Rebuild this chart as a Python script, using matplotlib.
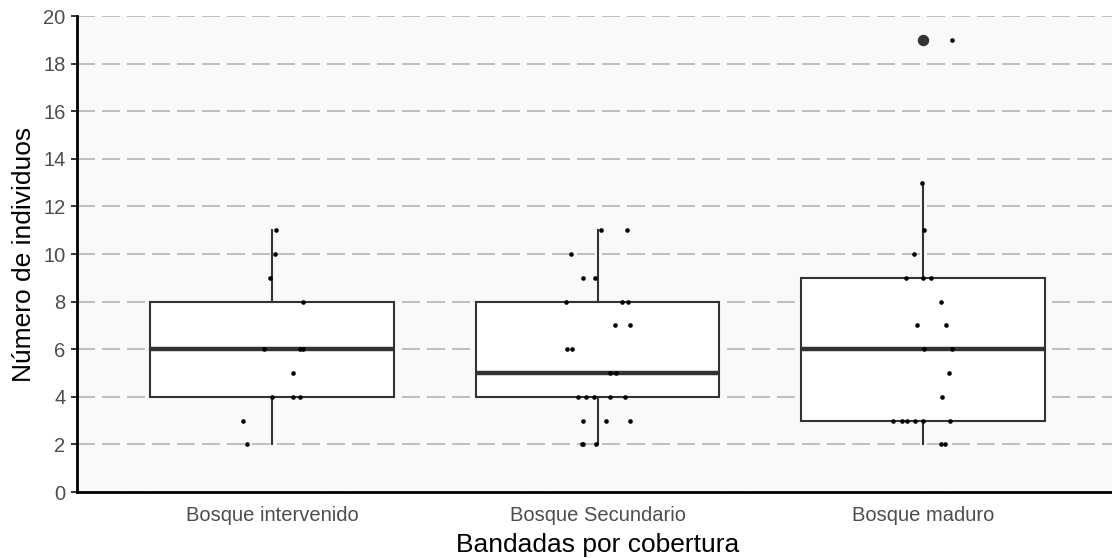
import matplotlib
matplotlib.use("Agg")
import matplotlib.pyplot as plt
import numpy as np

plt.rcParams['font.family'] = ['Liberation Sans', 'DejaVu Sans']

categories = ["Bosque intervenido", "Bosque Secundario", "Bosque maduro"]

vals_intervenido = [11, 10, 9, 8, 6, 6, 6, 5, 4, 4, 4, 3, 2]
jit_intervenido = [0.012, 0.009, -0.007, 0.095, -0.026, 0.085, 0.095, 0.064,
                   0.000, 0.065, 0.086, -0.089, -0.078]

vals_secundario = [11, 11, 10, 9, 9, 8, 8, 8, 7, 7, 6, 6, 5, 5, 4, 4, 4, 4, 4,
                   3, 3, 3, 2, 2, 2]
jit_secundario = [0.012, 0.092, -0.081, -0.045, -0.008, -0.097, 0.075, 0.094,
                  0.054, 0.100, -0.095, -0.077, 0.039, 0.056, -0.061, -0.034,
                  -0.012, 0.039, 0.083, -0.045, 0.026, 0.100, -0.048, -0.044,
                  -0.004]

vals_maduro = [19, 13, 11, 10, 9, 9, 9, 8, 7, 7, 6, 6, 5, 4, 3, 3, 3, 3, 3, 3,
               2, 2]
jit_maduro = [0.090, -0.002, 0.005, -0.028, -0.051, 0.000, 0.025, 0.056,
              -0.017, 0.072, 0.005, 0.090, 0.081, 0.060, -0.091, -0.064,
              -0.049, -0.023, 0.000, 0.084, 0.056, 0.068]

groups = [vals_intervenido, vals_secundario, vals_maduro]
jitters = [jit_intervenido, jit_secundario, jit_maduro]
yticks = [0, 2, 4, 6, 8, 10, 12, 14, 16, 18, 20]

W, H = 1112, 558
fig = plt.figure(figsize=(W / 100, H / 100), dpi=100)
left_px, right_px, top_px, bot_px = 77, 1118, 16, 492
ax = fig.add_axes([left_px / W, 1 - bot_px / H, (right_px - left_px) / W,
                   (bot_px - top_px) / H])
fig.patch.set_facecolor("white")
ax.set_facecolor("#F9F9F9")

ax.set_axisbelow(True)
ax.yaxis.grid(True, color="#C0C0C0", linewidth=1.44, linestyle=(0, (9, 3.5)))
ax.xaxis.grid(False)

positions = [1, 2, 3]
bp = ax.boxplot(groups, positions=positions, widths=0.75, whis=1.5,
                patch_artist=True, showcaps=False, zorder=2,
                boxprops=dict(facecolor="white", edgecolor="#333333", linewidth=1.5),
                whiskerprops=dict(color="#333333", linewidth=1.5),
                medianprops=dict(color="#333333", linewidth=3.2, solid_capstyle="butt"),
                flierprops=dict(marker="o", markersize=7.2, markerfacecolor="#333333",
                                markeredgecolor="#333333"))

for pos, vals, jit in zip(positions, groups, jitters):
    xs = [pos + j for j in jit]
    ax.scatter(xs, vals, s=11, color="black", zorder=4, linewidths=0)

ax.set_xlim(0.4, 3.6)
ax.set_ylim(0, 20)
ax.set_yticks(yticks)
ax.set_xticks(positions)
ax.set_xticklabels(categories)

for s in ["top", "right"]:
    ax.spines[s].set_visible(False)
for s in ["left", "bottom"]:
    ax.spines[s].set_color("black")
    ax.spines[s].set_linewidth(2.0)

ax.tick_params(axis="y", length=4.3, width=1.4, color="#333333",
               labelsize=14.5, labelcolor="#4D4D4D", pad=4)
ax.tick_params(axis="x", length=0, labelsize=14.5, labelcolor="#4D4D4D", pad=10)

ax.set_xlabel("Bandadas por cobertura", fontsize=19, color="black", labelpad=6)
ax.set_ylabel("Número de individuos", fontsize=19, color="black", labelpad=5)

fig.savefig("out.png", dpi=100)
